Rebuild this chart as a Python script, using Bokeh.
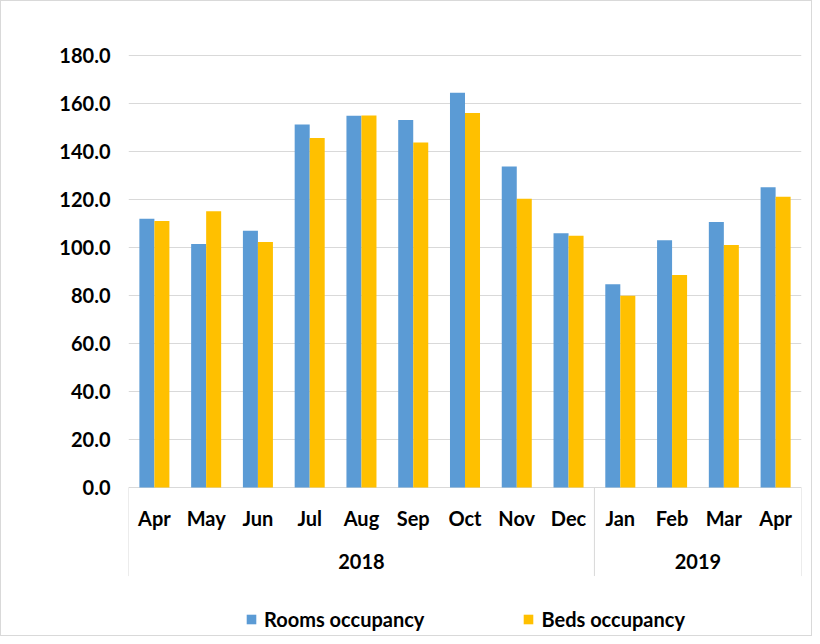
from bokeh.plotting import figure
from bokeh.models import (FactorRange, ColumnDataSource, FixedTicker,
                          NumeralTickFormatter, Legend, LegendItem, Range1d)
from bokeh.transform import dodge
from bokeh.core.properties import value
from bokeh.embed import file_html
from bokeh.resources import INLINE

# ---- data ----
years = ["2018"] * 9 + ["2019"] * 4
months = ["Apr", "May", "Jun", "Jul", "Aug", "Sep", "Oct", "Nov", "Dec",
          "Jan", "Feb", "Mar", "Apr"]
rooms = [112.0, 101.5, 107.0, 151.3, 154.9, 153.1, 164.5, 133.8, 105.9,
         84.7, 103.0, 110.6, 125.1]
beds = [111.0, 115.1, 102.3, 145.6, 155.0, 143.8, 156.0, 120.3, 104.9,
        79.9, 88.5, 101.0, 121.2]
year_labels = ["2018", "2019"]
y_ticks = [0, 20, 40, 60, 80, 100, 120, 140, 160, 180]

BLUE = "#5B9BD5"
GOLD = "#FFC000"
GRID = "#D9D9D9"
FONT = "Lato"

factors = list(zip(years, months))
x_range = FactorRange(*factors, group_padding=0, factor_padding=0,
                      subgroup_padding=0, range_padding=0)

p = figure(x_range=x_range, y_range=Range1d(-62.5, 184.17),
           width=812, height=636, output_backend="svg",
           toolbar_location=None, x_axis_location=None,
           min_border_left=127, min_border_right=12,
           min_border_top=44, min_border_bottom=0)
p.styles = {"border": "1px solid #D9D9D9"}
p.outline_line_color = None
p.xgrid.visible = False
p.ygrid.ticker = FixedTicker(ticks=y_ticks)
p.ygrid.grid_line_color = GRID
p.ygrid.grid_line_width = 1

ax = p.yaxis[0]
ax.ticker = FixedTicker(ticks=y_ticks)
ax.formatter = NumeralTickFormatter(format="0.0")
ax.axis_line_color = None
ax.major_tick_line_color = None
ax.minor_tick_line_color = None
ax.major_tick_in = 0
ax.major_tick_out = 0
ax.major_label_standoff = 18
ax.major_label_text_font = FONT
ax.major_label_text_font_style = "bold"
ax.major_label_text_font_size = "20px"
ax.major_label_text_color = "#000000"

src = ColumnDataSource(dict(x=factors, month=months, rooms=rooms, beds=beds))

r1 = p.vbar(x=dodge("x", -0.145, range=x_range), top="rooms", width=0.29,
            source=src, fill_color=BLUE, line_color=None)
r2 = p.vbar(x=dodge("x", 0.145, range=x_range), top="beds", width=0.29,
            source=src, fill_color=GOLD, line_color=None)

# month labels
p.text(x="x", y=-12.7, text="month", source=src, text_font=value(FONT),
       text_font_style="bold", text_font_size="20px", text_color="#000000",
       text_align="center", text_baseline="middle")

# year labels
ysrc = ColumnDataSource(dict(x=year_labels, t=year_labels))
p.text(x="x", y=-31.0, text="t", source=ysrc, text_font=value(FONT),
       text_font_style="bold", text_font_size="20px", text_color="#000000",
       text_align="center", text_baseline="middle")

# group separators
sep_left = ColumnDataSource(dict(x=[factors[0], factors[9]]))
sep_right = ColumnDataSource(dict(x=[factors[-1]]))
p.segment(x0=dodge("x", -0.5, range=x_range), y0=0,
          x1=dodge("x", -0.5, range=x_range), y1=-36.9,
          source=sep_left, line_color=GRID, line_width=1)
p.segment(x0=dodge("x", 0.5, range=x_range), y0=0,
          x1=dodge("x", 0.5, range=x_range), y1=-36.9,
          source=sep_right, line_color=GRID, line_width=1)

legend = Legend(items=[LegendItem(label="Rooms occupancy", renderers=[r1]),
                       LegendItem(label="Beds occupancy", renderers=[r2])],
                location=(117, 6), orientation="horizontal", spacing=98,
                glyph_width=12, glyph_height=12, label_standoff=7,
                padding=0, margin=0, border_line_color=None,
                background_fill_alpha=0,
                label_text_font=FONT, label_text_font_style="bold",
                label_text_font_size="20px", label_text_color="#000000")
p.add_layout(legend)

open("out.html", "w").write(file_html(p, INLINE))
